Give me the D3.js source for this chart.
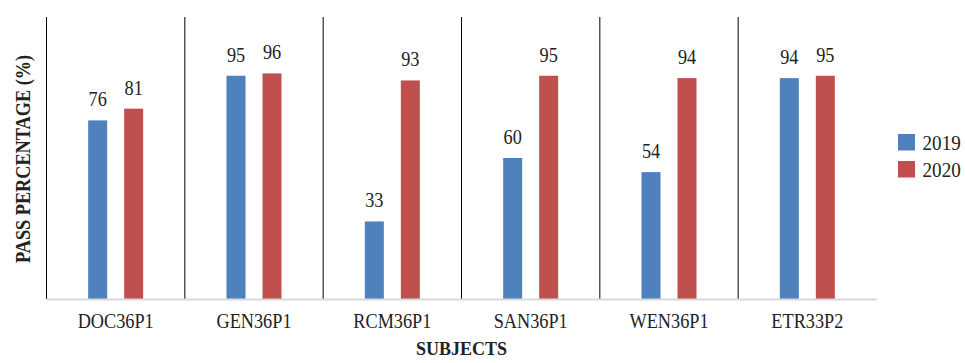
<!DOCTYPE html>
<html>
<head>
<meta charset="utf-8">
<script src="https://cdn.jsdelivr.net/npm/d3@7"></script>
<style>
  html, body { margin: 0; padding: 0; background: #fff; }
  svg { display: block; }
  text { font-family: "Liberation Serif", "Times New Roman", serif; fill: #222; }
</style>
</head>
<body>
<svg id="chart" width="965" height="363"></svg>
<script>
// Pass percentage per subject, two exam years
const subjects = ["DOC36P1", "GEN36P1", "RCM36P1", "SAN36P1", "WEN36P1", "ETR33P2"];
const years = ["2019", "2020"];
const pass2019 = [76, 95, 33, 60, 54, 94];
const pass2020 = [81, 96, 93, 95, 94, 95];
const colors = { "2019": "#4F81BD", "2020": "#C0504D" };

const rows = subjects.map((s, i) => ({ subject: s, "2019": pass2019[i], "2020": pass2020[i] }));

const svg = d3.select("#chart");
const margin = { left: 46.5, right: 88.5, top: 17, bottom: 64 };
const W = 965, H = 363;
const plotL = margin.left, plotR = W - margin.right;
const plotT = margin.top, plotB = H - margin.bottom;

const x = d3.scaleBand().domain(subjects).range([plotL, plotR]).padding(0);
const groupWidth = 55;
const xs = d3.scaleBand().domain(years).range([0, groupWidth]).paddingInner(17 / 36).paddingOuter(0);
const y = d3.scaleLinear().domain([0, 120]).range([plotB, plotT]);

const sx = 0.83; // narrow glyph width for labels

// category divider lines
const dividers = subjects.slice(1).map(s => x(s)).concat([plotL]);
svg.append("g").selectAll("line").data(dividers).join("line")
  .attr("x1", d => d).attr("x2", d => d)
  .attr("y1", plotT).attr("y2", plotB)
  .attr("stroke", "#000").attr("stroke-width", 1);

// bars
const groups = svg.append("g").selectAll("g").data(rows).join("g")
  .attr("transform", d => `translate(${x(d.subject) + x.bandwidth() / 2 - groupWidth / 2},0)`);

groups.selectAll("rect").data(d => years.map(k => ({ key: k, value: d[k] }))).join("rect")
  .attr("x", d => xs(d.key))
  .attr("width", xs.bandwidth())
  .attr("y", d => y(d.value))
  .attr("height", d => y(0) - y(d.value))
  .attr("fill", d => colors[d.key]);

// value labels
groups.selectAll("text").data(d => years.map(k => ({ key: k, value: d[k] }))).join("text")
  .attr("transform", d => `translate(${xs(d.key) + xs.bandwidth() / 2},${y(d.value) - 14}) scale(${sx},1)`)
  .attr("text-anchor", "middle")
  .attr("font-size", 22)
  .text(d => d.value);

// baseline
svg.append("line")
  .attr("x1", plotL).attr("x2", plotR)
  .attr("y1", plotB + 0.5).attr("y2", plotB + 0.5)
  .attr("stroke", "#d9d9d9").attr("stroke-width", 2);

// x axis tick labels
const xAxis = d3.axisBottom(x).tickSize(0).tickPadding(0);
const gx = svg.append("g").attr("transform", `translate(0,${plotB})`).call(xAxis);
gx.select(".domain").remove();
gx.selectAll(".tick text")
  .attr("y", null).attr("dy", null)
  .attr("transform", `translate(0,29) scale(${sx},1)`)
  .attr("font-size", 22)
  .attr("font-family", "Liberation Serif, serif")
  .attr("fill", "#222");

// axis titles
svg.append("text")
  .attr("transform", `translate(${(plotL + plotR) / 2},355)`)
  .attr("text-anchor", "middle")
  .attr("font-size", 18)
  .attr("font-weight", "bold")
  .text("SUBJECTS");

svg.append("text")
  .attr("transform", `translate(30,${(plotT + plotB) / 2 + 1}) rotate(-90) scale(${sx},1)`)
  .attr("text-anchor", "middle")
  .attr("font-size", 22)
  .attr("font-weight", "bold")
  .text("PASS PERCENTAGE (%)");

// legend
const legend = svg.append("g").attr("transform", "translate(898,134)");
const li = legend.selectAll("g").data(years).join("g")
  .attr("transform", (d, i) => `translate(0,${i * 27})`);
li.append("rect").attr("width", 17).attr("height", 16.5).attr("fill", d => colors[d]);
li.append("text")
  .attr("transform", `translate(24.5,16) scale(0.87,1)`)
  .attr("font-size", 22)
  .text(d => d);
</script>
</body>
</html>
